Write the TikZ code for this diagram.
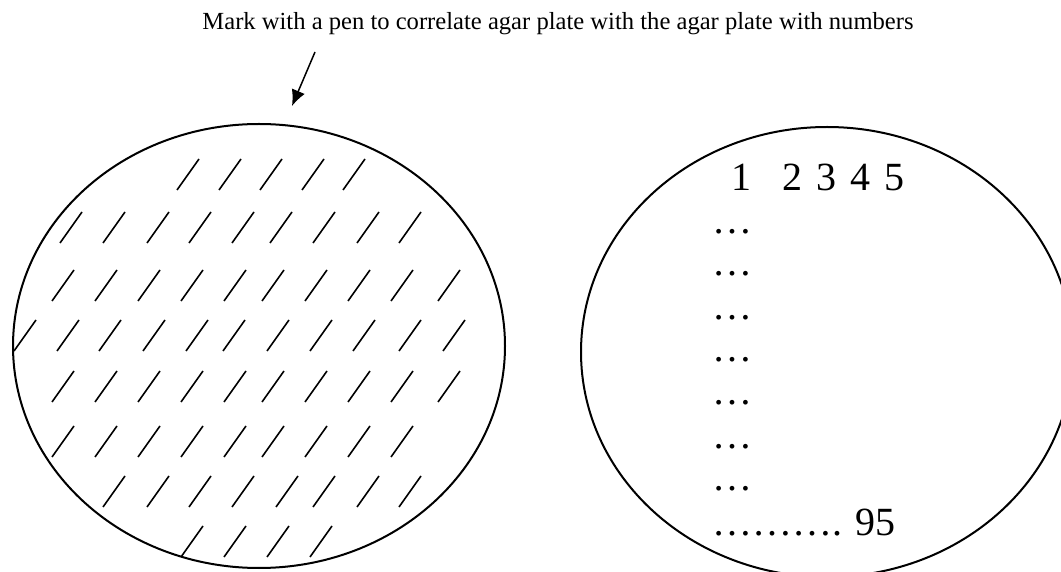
\documentclass[tikz,border=0pt]{standalone}
\usepackage{fontspec}
\setmainfont{Liberation Serif}
\usepackage{tikz}
\usetikzlibrary{arrows.meta}
\usetikzlibrary{shapes.geometric}

\begin{document}
\begin{tikzpicture}[
  x=0.5pt, y=-0.5pt,
  plate/.style={draw, ellipse, line width=1pt, inner sep=0pt},
  streak/.style={line width=0.8pt},
  pointer/.style={line width=0.75pt, -{Latex[length=8pt, width=7pt]}},
  numtext/.style={anchor=base west, inner sep=0pt, font=\fontsize{20}{24}\selectfont}
]
\useasboundingbox (0,0) rectangle (1061,572);
\node[anchor=base, inner sep=0pt, font=\fontsize{12.3}{15}\selectfont] (title) at (558,30)
  {Mark with a pen to correlate agar plate with the agar plate with numbers};
\coordinate (pen) at (315,52);
\coordinate (pentip) at (292,106);
\draw[pointer] (pen) -- (pentip);
% plate with the streaks
\node[plate, minimum width=246pt, minimum height=222pt] (plateA) at (259,346) {};
\foreach \yb/\xs in {190/{177,219,260,302,343},
                      243/{60,103,147,189,232,270,313,357,399},
                      301/{52,95,138,181,224,262,305,348,391,438},
                      351/{14,57,99,143,186,223,267,310,353,399,443},
                      402/{52,95,138,181,224,262,305,348,391,438},
                      457/{52,95,138,181,224,262,305,348,391},
                      507/{103,147,189,232,276,313,357,399},
                      557/{181,224,267,310}}
  \foreach \xb in \xs
    \draw[streak] (\xb,\yb) -- ++(22,-31);
% plate with the numbers
\node[plate, minimum width=246pt, minimum height=225pt] (plateB) at (827,352) {};
\node[numtext] (nums) at (731,191) {1\hspace{15.5pt}2\hspace{7pt}3\hspace{7pt}4\hspace{7pt}5};
\foreach \yb [count=\i] in {234,276,320,362,405,448,490}
  \node[numtext] (row\i) at (712,\yb) {…};
\node[numtext] (lastrow) at (712,535) {………. 95};
\end{tikzpicture}
\end{document}
